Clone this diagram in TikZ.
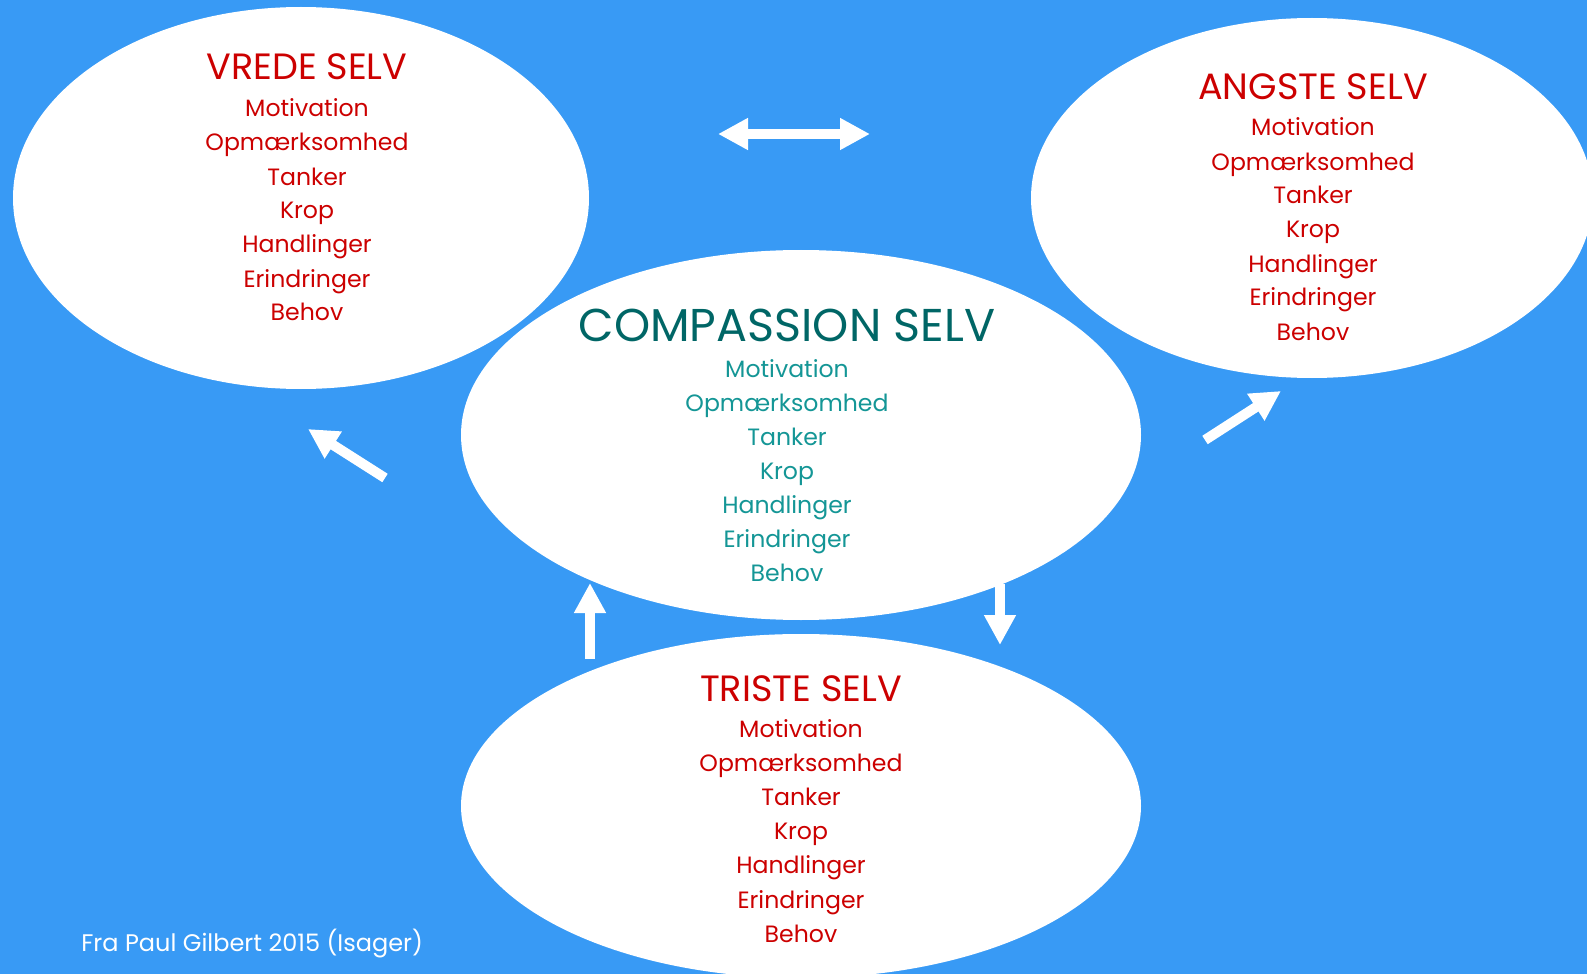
\documentclass[tikz,border=0pt]{standalone}
\usepackage{fontspec}
\setmainfont{Poppins}
\usetikzlibrary{shapes.geometric,arrows.meta}
\definecolor{skyblue}{RGB}{56,154,245}
\definecolor{selfred}{RGB}{204,0,0}
\definecolor{deepteal}{RGB}{0,102,102}
\definecolor{softteal}{RGB}{20,150,150}
\tikzset{
  blob/.style={ellipse, fill=white, draw=none, inner sep=0pt},
  redtitle/.style={text=selfred, font=\fontsize{18.3}{21}\selectfont, anchor=base, inner sep=0pt},
  reditem/.style={text=selfred, font=\fontsize{11.8}{14}\selectfont, anchor=base, inner sep=0pt},
  tealtitle/.style={text=deepteal, font=\fontsize{23}{27}\selectfont, anchor=base, inner sep=0pt},
  tealitem/.style={text=softteal, font=\fontsize{11.8}{14}\selectfont, anchor=base, inner sep=0pt},
  note/.style={text=white, font=\fontsize{12}{14}\selectfont, anchor=base west, inner sep=0pt},
  blockarrow/.style={draw=white, line width=5pt, line cap=butt,
    -{Triangle[length=15pt,width=15pt]}},
  twoway/.style={draw=white, line width=5pt, line cap=butt,
    {Triangle[length=15pt,width=15pt]}-{Triangle[length=15pt,width=15pt]}},
}
\begin{document}
\begin{tikzpicture}[x=0.5pt,y=-0.5pt]
  \fill[skyblue] (0,0) rectangle (1587,974);
  \useasboundingbox (0,0) rectangle (1587,974);

  % the four selves (sizes in pt: half of the axes in picture units)
  \node[blob, minimum width=288pt, minimum height=191pt] (vrede) at (301,198) {};
  \node[blob, minimum width=281pt, minimum height=180pt] (angste) at (1312,198) {};
  \node[blob, minimum width=340pt, minimum height=185pt] (compassion) at (801,435) {};
  \node[blob, minimum width=340pt, minimum height=172pt] (triste) at (801,806) {};

  % texts
  \node[redtitle] (vredetitle) at (307,80) {VREDE SELV};
  \foreach \t [count=\i] in {Motivation,Opmærksomhed,Tanker,Krop,Handlinger,Erindringer,Behov}
    \node[reditem] (vrede\i) at (307,{117+(\i-1)*34}) {\t};

  \node[redtitle] (angstetitle) at (1313,100) {ANGSTE SELV};
  \foreach \t [count=\i] in {Motivation,Opmærksomhed,Tanker,Krop,Handlinger,Erindringer,Behov}
    \node[reditem] (angste\i) at (1313,{136+(\i-1)*34}) {\t};

  \node[tealtitle] (compassiontitle) at (787,342) {COMPASSION SELV};
  \foreach \t [count=\i] in {Motivation,Opmærksomhed,Tanker,Krop,Handlinger,Erindringer,Behov}
    \node[tealitem] (compassion\i) at (787,{377+(\i-1)*34.1}) {\t};

  \node[redtitle] (tristetitle) at (801,701) {TRISTE SELV};
  \foreach \t [count=\i] in {Motivation,Opmærksomhed,Tanker,Krop,Handlinger,Erindringer,Behov}
    \node[reditem] (triste\i) at (801,{737+(\i-1)*34.2}) {\t};

  \node[note] (source) at (81,951) {Fra Paul Gilbert 2015 (Isager)};

  % arrows between the selves
  \coordinate (swapL) at (718,134);
  \coordinate (swapR) at (870,134);
  \coordinate (toVredeS) at (385,478);
  \coordinate (toVredeE) at (308,429);
  \coordinate (toAngsteS) at (1205,440);
  \coordinate (toAngsteE) at (1281,391);
  \coordinate (upS) at (590,659);
  \coordinate (upE) at (590,583);
  \coordinate (downS) at (1000,584);
  \coordinate (downE) at (1000,645);

  \draw[twoway] (swapL) -- (swapR);
  \draw[blockarrow] (toVredeS) -- (toVredeE);
  \draw[blockarrow] (toAngsteS) -- (toAngsteE);
  \draw[blockarrow] (upS) -- (upE);
  \draw[blockarrow] (downS) -- (downE);
\end{tikzpicture}
\end{document}
